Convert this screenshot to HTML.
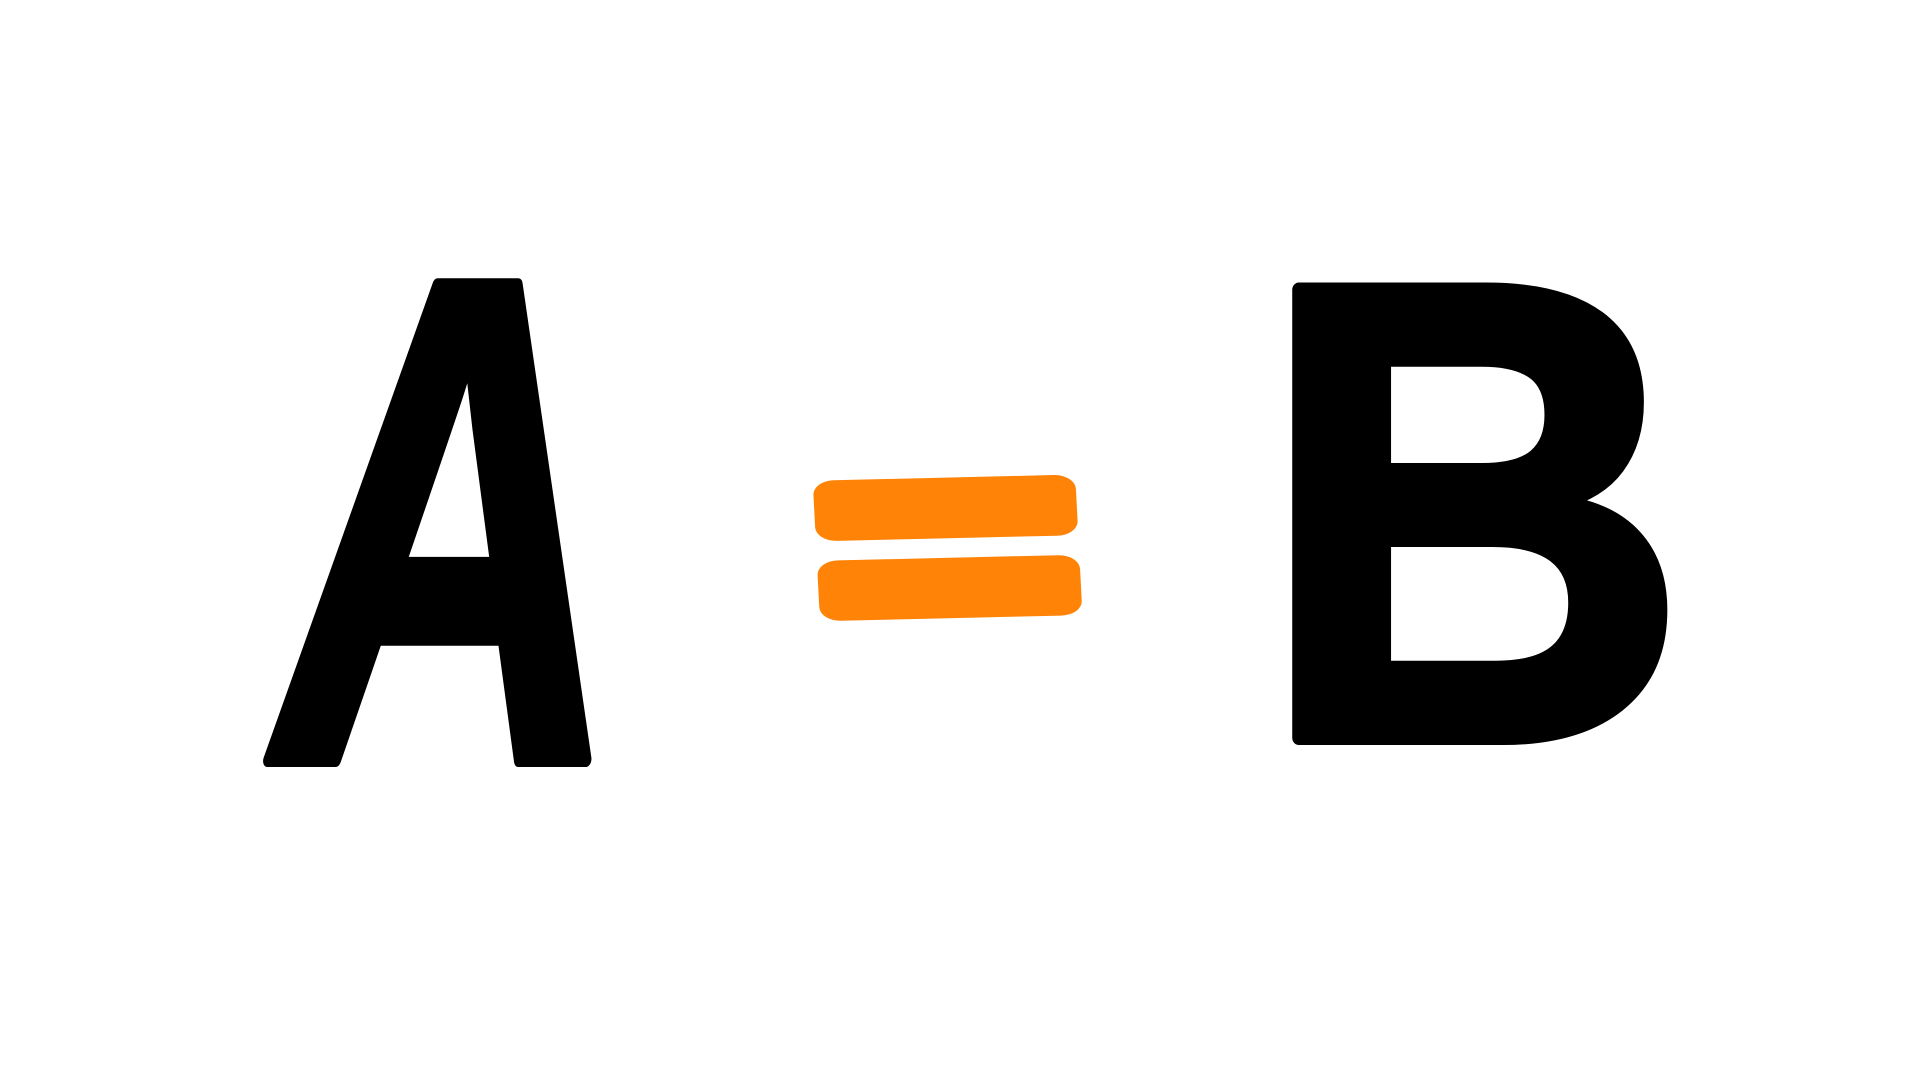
<!DOCTYPE html>
<html><head><meta charset="utf-8"><style>
html,body{margin:0;padding:0;background:#fff;width:1920px;height:1080px;overflow:hidden}
svg{display:block}
</style></head><body>
<svg width="1920" height="1080" viewBox="0 0 1920 1080">
<rect width="1920" height="1080" fill="#fff"/>
<text x="261" y="760" font-family="Liberation Sans, sans-serif" font-weight="bold" font-size="690" textLength="343" lengthAdjust="spacingAndGlyphs" fill="#000" stroke="#000" stroke-width="14" stroke-linejoin="round" transform="skewX(-6) translate(75,0)">A</text>
<g transform="translate(0,545) scale(1,0.675) translate(0,-555)">
<text x="947" y="705" text-anchor="middle" font-family="Liberation Sans, sans-serif" font-weight="bold" font-size="440" fill="#ff8307" stroke="#ff8307" stroke-width="42" stroke-linejoin="round" transform="rotate(-2 947 545)">=</text>
</g>
<g transform="translate(1293,282) scale(1.164,1.05) translate(-1329,-296)">
<text x="1300" y="730" font-family="Liberation Sans, sans-serif" font-weight="bold" font-size="620" textLength="368" lengthAdjust="spacingAndGlyphs" fill="#000" stroke="#000" stroke-width="14" stroke-linejoin="round">B</text>
</g>
</svg>
</body></html>
